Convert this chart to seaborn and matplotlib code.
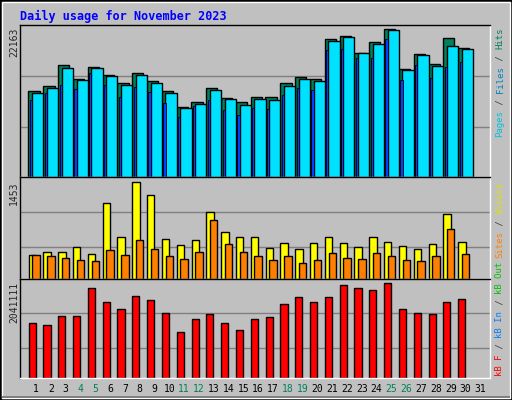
import numpy as np
import matplotlib
matplotlib.use("Agg")
import matplotlib.pyplot as plt
import seaborn as sns
from matplotlib.patches import Rectangle

days = list(range(1, 32))
weekend_days = [4, 5, 11, 12, 18, 19, 25, 26]
hits = [12850, 13600, 16750, 14750, 16450, 15350, 14050, 15550, 14350, 12850, 10550, 11200, 13300, 11900, 11300,
        12050, 12050, 14050, 14950, 14650, 20650, 21100, 18550, 20200, 22163, 16150, 18400, 16850, 20800, 19300]
files = [12650, 13400, 16300, 14600, 16300, 15200, 13850, 15350, 14150, 12650, 10400, 11000, 13100, 11750, 10850,
         11750, 11600, 13700, 14750, 14450, 20350, 20900, 18550, 19900, 21950, 15950, 18250, 16600, 19550, 19100]
pages = [11500, 12550, 13750, 13150, 15550, 13750, 11950, 13450, 12700, 11050, 8950, 10600, 11500, 10000, 9250,
         10300, 10150, 12250, 13300, 13000, 19000, 19150, 17800, 17800, 20650, 14500, 16750, 14800, 16450, 17200]
visits = [363, 410, 410, 473, 379, 1136, 631, 1453, 1247, 600, 505, 584, 994, 694, 631,
          631, 458, 537, 442, 537, 631, 537, 473, 631, 552, 489, 442, 521, 963, 552]
sites = [363, 347, 316, 284, 268, 426, 363, 584, 442, 347, 300, 410, 884, 521, 410,
         347, 284, 347, 237, 284, 395, 316, 300, 395, 347, 284, 268, 347, 742, 379]
kbytes = [1188800, 1144000, 1323400, 1323400, 1929000, 1637500, 1480400, 1749600, 1682300, 1390700, 987000,
          1256100, 1368300, 1188800, 1031800, 1256100, 1301000, 1592600, 1727200, 1637500, 1727200, 1996400,
          1929000, 1884200, 2041111, 1480400, 1390700, 1368300, 1637500, 1704800]
max_labels = ["22163", "1453", "2041111"]
title = "Daily usage for November 2023"

BG = "#C0C0C0"
MONO = "DejaVu Sans Mono"
sns.set_style("white")
plt.rcParams['font.family'] = [MONO]

fig = plt.figure(figsize=(5.12, 4), dpi=100, facecolor=BG)
# bevelled frame
fig.patches.append(Rectangle((0, 0), 1, 1, transform=fig.transFigure, fill=False, ec="black", lw=2))
fig.patches.append(Rectangle((2/512, 2/400), 1 - 4/512, 1 - 4/400, transform=fig.transFigure, fill=False, ec="white", lw=1))
fig.patches.append(Rectangle((0.004, 0.004), 1 - 0.008, 0.006, transform=fig.transFigure, fc="#808080", ec="none"))

L, W = 20/512, 470/512
ax1 = fig.add_axes([L, 1 - 177/400, W, 152/400])
ax2 = fig.add_axes([L, 1 - 279/400, W, 102/400])
ax3 = fig.add_axes([L, 1 - 378/400, W, 99/400])

d = np.array(days[:30], dtype=float)
ek = dict(edgecolor="black", linewidth=1, native_scale=True, ax=None)

def bars(ax, x, y, color, width, lw=1):
    sns.barplot(x=x, y=y, color=color, width=width, edgecolor="black", linewidth=lw,
                native_scale=True, saturation=1, ax=ax)

bars(ax1, d - 0.13, hits, "#00805C", 0.76)
bars(ax1, d + 0.12, files, "#00E0FF", 0.76)
bars(ax1, d - 0.33, pages, "#0040FF", 0.15, lw=0.6)
bars(ax2, d - 0.25, visits, "#FFFF00", 0.5)
bars(ax2, d + 0.0, sites, "#FF8000", 0.5)
bars(ax3, d - 0.26, kbytes, "#FF0000", 0.48)

ylims = [22763, 1521, 2123350]
grids = [[7437, 15100], [473, 994], [650500, 1390700]]
for ax, top, g in zip([ax1, ax2, ax3], ylims, grids):
    ax.set_facecolor(BG)
    ax.set_xlim(-0.08, 31.65)
    ax.set_ylim(0, top)
    for v in g:
        ax.axhline(v, color="#808080", lw=1, zorder=0)
    ax.set_xlabel(""); ax.set_ylabel("")
    ax.set_yticks([])
    ax.set_xticks([])
    for s in ["left", "top"]:
        ax.spines[s].set_color("black")
    for s in ["right", "bottom"]:
        ax.spines[s].set_color("white")
    for s in ax.spines.values():
        s.set_linewidth(1)

ax3.set_xticks(days)
ax3.set_xticklabels([str(x) for x in days], fontsize=7, family=MONO)
ax3.tick_params(axis="x", length=0, pad=4)
for lab, dd in zip(ax3.get_xticklabels(), days):
    lab.set_color("#00805C" if dd in weekend_days else "black")

fig.text(20/512, 1 - 16/400, title, color="#0000FF", fontsize=8.5, fontweight="bold", family=MONO, va="center")
for lab, yc in zip(max_labels, [42, 193, 302]):
    fig.text(14/512, 1 - yc/400, lab, rotation=90, fontsize=7, family=MONO, ha="center", va="center")

def vlabel(parts, y_start):
    y = y_start
    for txt, col in parts:
        t = fig.text(500/512, 1 - y/400, txt, rotation=90, fontsize=6.5, family=MONO, color=col,
                     ha="center", va="bottom")
        y -= len(txt) * 5.5
    return y

vlabel([("Pages", "#00C0E0"), (" / ", "#404040"), ("Files", "#0080C0"), (" / ", "#404040"), ("Hits", "#00805C")], 137)
vlabel([("Sites", "#FF8000"), (" / ", "#404040"), ("Visits", "#E0E000")], 258)
vlabel([("kB F", "#FF0000"), (" / ", "#404040"), ("kB In", "#0080FF"), (" / ", "#404040"), ("kB Out", "#00C000")], 376)

fig.savefig("out.png", dpi=100, facecolor=BG)
